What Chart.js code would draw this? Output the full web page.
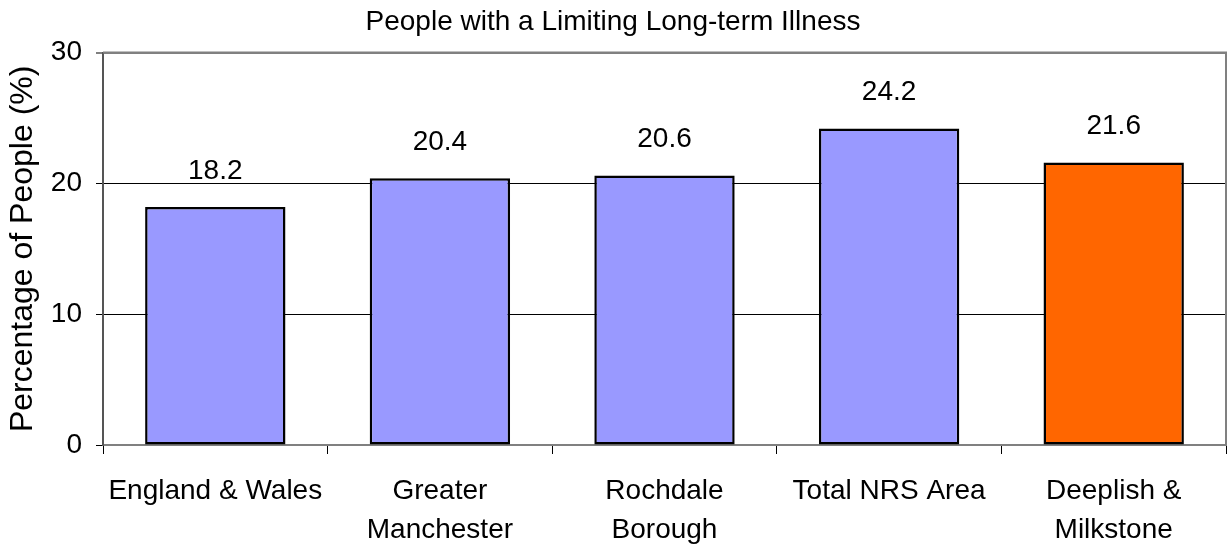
<!DOCTYPE html>
<html>
<head>
<meta charset="utf-8">
<script src="https://cdn.jsdelivr.net/npm/chart.js@4/dist/chart.umd.min.js"></script>
<style>
  html, body { margin: 0; padding: 0; background: #fff; }
  #wrap { width: 1230px; height: 544px; }
</style>
</head>
<body>
<div id="wrap"><canvas id="myBarChart" width="1230" height="544"></canvas></div>
<script>
const categories = [
    'England & Wales',
    ['Greater', 'Manchester'],
    ['Rochdale', 'Borough'],
    'Total NRS Area',
    ['Deeplish &', 'Milkstone']
];
const values = [18.2, 20.4, 20.6, 24.2, 21.6];
const barColors = ['#9999FF', '#9999FF', '#9999FF', '#9999FF', '#FF6600'];
const yTicks = [0, 10, 20, 30];

const FONT = "'Liberation Sans', Arial, sans-serif";

// draws the value above each bar and the gray frame of the plot area
const valueLabels = {
    id: 'valueLabels',
    beforeDatasetsDraw(chart) {
        const a = chart.chartArea;
        const ctx = chart.ctx;
        ctx.save();
        ctx.strokeStyle = '#808080';
        ctx.lineWidth = 2;
        ctx.beginPath();
        ctx.moveTo(a.left, a.top);
        ctx.lineTo(a.right, a.top);
        ctx.lineTo(a.right, a.bottom);
        ctx.stroke();
        ctx.restore();
    },
    afterDatasetsDraw(chart) {
        const ctx = chart.ctx;
        const meta = chart.getDatasetMeta(0);
        ctx.save();
        ctx.font = '28px ' + FONT;
        ctx.fillStyle = '#000';
        ctx.textAlign = 'center';
        ctx.textBaseline = 'middle';
        meta.data.forEach((bar, i) => {
            ctx.fillText(values[i].toFixed(1), bar.x, bar.y - 36);
        });
        ctx.restore();
    }
};

const ctx = document.getElementById('myBarChart').getContext('2d');
const myBarChart = new Chart(ctx, {
    type: 'bar',
    data: {
        labels: categories,
        datasets: [{
            data: values,
            backgroundColor: barColors,
            borderColor: '#000',
            borderWidth: 2.5,
            borderSkipped: false,
            categoryPercentage: 1,
            barPercentage: 0.625
        }]
    },
    options: {
        responsive: false,
        animation: false,
        layout: { padding: { left: 0, right: 4, top: 0, bottom: 0 } },
        plugins: {
            legend: { display: false },
            tooltip: { enabled: false },
            title: {
                display: true,
                text: 'People with a Limiting Long-term Illness',
                color: '#000',
                font: { family: FONT, size: 28, weight: 'normal' },
                padding: { top: 5, bottom: 14 }
            }
        },
        scales: {
            x: {
                grid: {
                    offset: true,
                    drawOnChartArea: false,
                    drawTicks: true,
                    tickLength: 9,
                    color: '#000'
                },
                border: { color: '#808080', width: 2 },
                ticks: {
                    color: '#000',
                    padding: 17,
                    maxRotation: 0,
                    autoSkip: false,
                    font: { family: FONT, size: 28, lineHeight: 1.42 }
                },
                afterFit(scale) { scale.height = 99; }
            },
            y: {
                min: 0,
                max: 30,
                afterBuildTicks(scale) {
                    scale.ticks = yTicks.map(v => ({ value: v }));
                },
                grid: {
                    color: ctx => (ctx.tick && ctx.tick.value === 30) ? '#808080' : '#000',
                    lineWidth: ctx => (ctx.tick && ctx.tick.value === 30) ? 2 : 1,
                    tickLength: 7
                },
                border: { color: '#555', width: 2 },
                ticks: {
                    color: '#000',
                    padding: 14,
                    font: { family: FONT, size: 28 }
                },
                title: {
                    display: true,
                    text: 'Percentage of People (%)',
                    color: '#000',
                    font: { family: FONT, size: 32 },
                    padding: { top: 4, bottom: 4 }
                },
                afterFit(scale) { scale.width = 103; }
            }
        }
    },
    plugins: [valueLabels]
});
</script>
</body>
</html>
